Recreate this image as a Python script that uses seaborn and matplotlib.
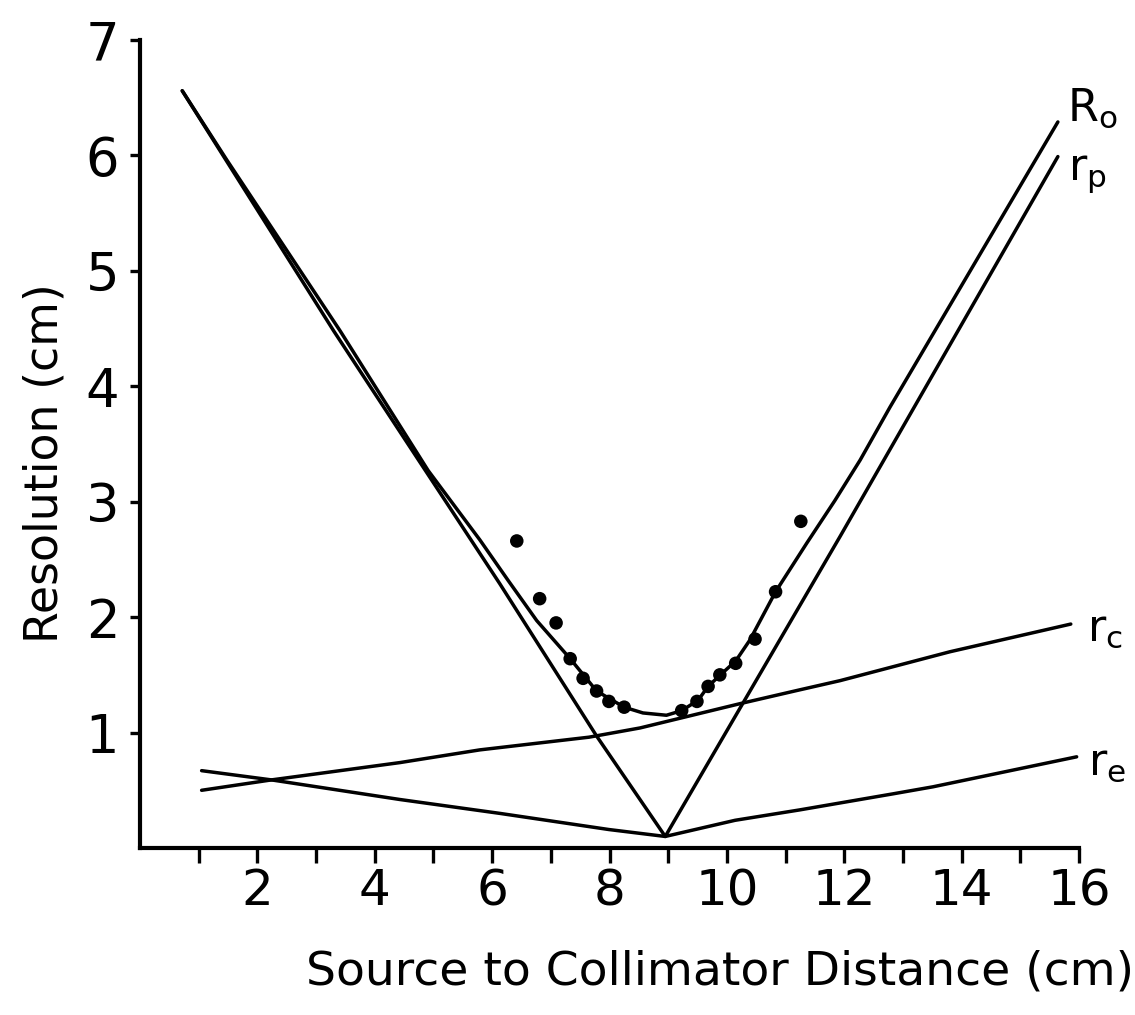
import matplotlib
matplotlib.use("Agg")
import matplotlib.pyplot as plt
import seaborn as sns
import pandas as pd

# ---- data ----
ro_x = [0.72, 1.48, 3.41, 4.91, 5.79, 6.27, 6.76, 7.33, 7.78, 8.25, 8.57, 8.97,
        9.23, 9.51, 9.68, 9.89, 10.15, 10.39, 10.83, 11.36, 11.84, 12.27, 12.78, 15.64]
ro_y = [6.56, 5.96, 4.48, 3.27, 2.67, 2.32, 1.97, 1.64, 1.36, 1.22, 1.17, 1.15,
        1.19, 1.28, 1.40, 1.50, 1.62, 1.80, 2.22, 2.64, 3.01, 3.36, 3.82, 6.29]

rp_x = [0.72, 3.30, 6.13, 7.78, 8.95, 11.93, 15.64]
rp_y = [6.56, 4.48, 2.29, 0.97, 0.10, 2.70, 5.99]

rc_x = [1.05, 2.24, 4.43, 5.79, 7.65, 8.52, 10.22, 11.24, 11.93, 13.80, 15.86]
rc_y = [0.50, 0.59, 0.74, 0.85, 0.96, 1.04, 1.25, 1.37, 1.45, 1.70, 1.94]

re_x = [1.05, 2.24, 4.43, 6.13, 7.99, 8.95, 10.14, 11.24, 12.84, 13.51, 15.96]
re_y = [0.67, 0.59, 0.42, 0.30, 0.16, 0.10, 0.24, 0.33, 0.47, 0.53, 0.79]

pts_x = [6.42, 6.81, 7.09, 7.33, 7.55, 7.78, 7.99, 8.25,
         9.23, 9.49, 9.68, 9.88, 10.15, 10.48, 10.83, 11.26]
pts_y = [2.66, 2.16, 1.95, 1.64, 1.47, 1.36, 1.27, 1.22,
         1.19, 1.27, 1.40, 1.50, 1.60, 1.81, 2.22, 2.83]

x_ticks = list(range(1, 17))
x_ticklabels = ["" if t % 2 else str(t) for t in x_ticks]
y_ticks = [1, 2, 3, 4, 5, 6, 7]
y_ticklabels = [str(t) for t in y_ticks]

series_labels = ["R$_\\mathregular{o}$", "r$_\\mathregular{p}$", "r$_\\mathregular{c}$", "r$_\\mathregular{e}$"]
xlabel = "Source to Collimator Distance (cm)"
ylabel = "Resolution (cm)"

# ---- style ----
sns.set_theme(style="ticks")
plt.rcParams["font.family"] = ["DejaVu Sans"]
plt.rcParams["mathtext.default"] = "regular"

fig = plt.figure(figsize=(11.35, 10.15), dpi=100)
fig.patch.set_facecolor("white")
ax = fig.add_axes([140 / 1135, 167 / 1015, 939 / 1135, 808 / 1015])
ax.set_facecolor("white")

lw = 2.5
series = [(ro_x, ro_y), (rp_x, rp_y), (rc_x, rc_y), (re_x, re_y)]
for sx, sy in series:
    df = pd.DataFrame({"x": sx, "y": sy})
    sns.lineplot(data=df, x="x", y="y", ax=ax, color="black", lw=lw,
                 sort=False, estimator=None)

sns.scatterplot(x=pts_x, y=pts_y, ax=ax, color="black", s=95, edgecolor="none", zorder=5)

# curve labels near line ends
offsets = [(9, 14), (10, -17), (16, -4), (11, -6)]
for (sx, sy), lab, off in zip(series, series_labels, offsets):
    ax.annotate(lab, xy=(sx[-1], sy[-1]), xytext=off, textcoords="offset pixels",
                ha="left", va="center", fontsize=32, color="black")

ax.set_xlim(0, 16)
ax.set_ylim(0, 7)
ax.set_xticks(x_ticks)
ax.set_xticklabels(x_ticklabels)
ax.set_yticks(y_ticks)
ax.set_yticklabels(y_ticklabels)
ax.tick_params(axis="x", direction="out", length=11, width=2.4, labelsize=36, pad=3, colors="black")
ax.tick_params(axis="y", direction="out", length=7, width=2.4, labelsize=38, pad=8, colors="black")
ax.set_xlabel("")
ax.set_ylabel("")
for side in ["top", "right"]:
    ax.spines[side].set_visible(False)
for side in ["left", "bottom"]:
    ax.spines[side].set_linewidth(3)
    ax.spines[side].set_color("black")

fig.text(720 / 1135, 1 - 972 / 1015, xlabel, ha="center", va="center", fontsize=34, color="black")
fig.text(45 / 1135, 1 - 463 / 1015, ylabel, ha="center", va="center", rotation=90,
         fontsize=33, color="black")

fig.savefig("out.png", dpi=100, facecolor="white")
